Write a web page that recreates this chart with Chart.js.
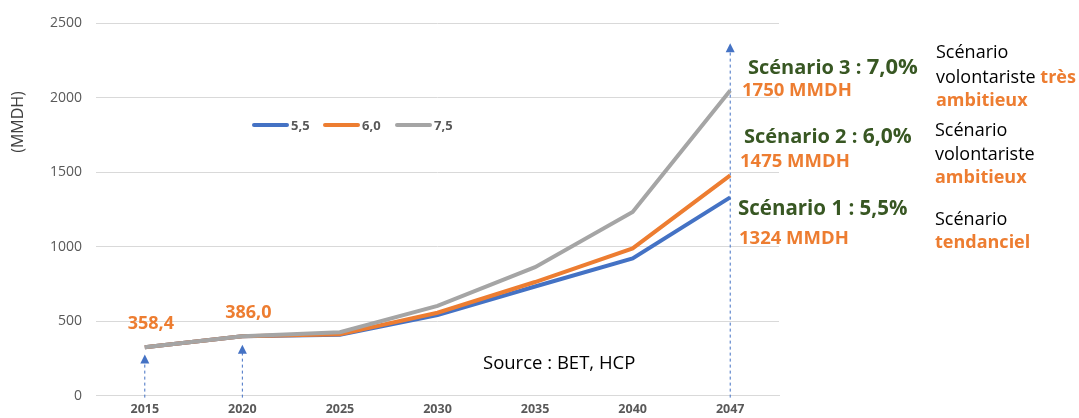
<!DOCTYPE html>
<html>
<head>
<meta charset="utf-8">
<script src="https://cdn.jsdelivr.net/npm/chart.js@4.4.0/dist/chart.umd.min.js"></script>
<style>
  body { margin: 0; background: #fff; }
  #wrap { width: 1079px; height: 418px; position: relative; }
</style>
</head>
<body>
<div id="wrap"><canvas id="projChart"></canvas></div>
<script>
// Données du graphique
const years = ['2015', '2020', '2025', '2030', '2035', '2040', '2047'];
const seriesNames = ['5,5', '6,0', '7,5'];
const scenario55 = [325, 398, 408, 540, 732, 920, 1330];
const scenario60 = [325, 398, 412, 556, 762, 988, 1478];
const scenario75 = [325, 398, 425, 602, 862, 1232, 2047];
const pointLabels = ['358,4', '386,0'];
const yTicks = [0, 500, 1000, 1500, 2000, 2500];

const colors = ['#4472C4', '#ED7D31', '#A5A5A5'];
const ORANGE = '#ED7D31';
const GREEN = '#385723';
const FONT = '"Open Sans", sans-serif';

// dessine une suite de morceaux de texte sur la même ligne
function drawRuns(ctx, x, y, runs) {
    ctx.textBaseline = 'alphabetic';
    ctx.textAlign = 'left';
    runs.forEach(r => {
        ctx.font = r.font;
        ctx.fillStyle = r.color;
        ctx.fillText(r.text, x, y);
        x += ctx.measureText(r.text).width;
    });
}

const annotations = {
    id: 'annotations',
    beforeDatasetsDraw(chart) {
        const { ctx, scales: { x, y } } = chart;
        // flèches pointillées bleues (sommet en valeur de l'axe)
        const arrows = [[0, 275], [1, 342], [6, 2364]];
        ctx.save();
        arrows.forEach(([i, v]) => {
            const px = x.getPixelForValue(i);
            const top = y.getPixelForValue(v);
            ctx.strokeStyle = '#4472C4';
            ctx.lineWidth = 1;
            ctx.setLineDash([3, 3]);
            ctx.beginPath();
            ctx.moveTo(px, y.getPixelForValue(0) + 2);
            ctx.lineTo(px, top + 8);
            ctx.stroke();
            ctx.setLineDash([]);
            ctx.fillStyle = '#4472C4';
            ctx.beginPath();
            ctx.moveTo(px, top);
            ctx.lineTo(px - 4.5, top + 9);
            ctx.lineTo(px + 4.5, top + 9);
            ctx.closePath();
            ctx.fill();
        });
        ctx.restore();
    },
    afterDraw(chart) {
        const { ctx, scales: { x, y } } = chart;
        ctx.save();

        // titre de l'axe Y
        ctx.translate(18, 122);
        ctx.rotate(-Math.PI / 2);
        ctx.font = '16px ' + FONT;
        ctx.fillStyle = '#404040';
        ctx.textAlign = 'center';
        ctx.textBaseline = 'middle';
        ctx.fillText('(MMDH)', 0, 0);
        ctx.setTransform(1, 0, 0, 1, 0, 0);

        // étiquettes de valeurs 2015 / 2020
        pointLabels.forEach((t, i) => {
            ctx.font = 'bold 18px ' + FONT;
            ctx.fillStyle = ORANGE;
            ctx.textAlign = 'center';
            ctx.textBaseline = 'middle';
            ctx.fillText(t, x.getPixelForValue(i) + 6, y.getPixelForValue(scenario75[i]) - 23);
        });

        // légende
        const legendX = [252, 323, 395];
        seriesNames.forEach((n, i) => {
            const lx = legendX[i];
            ctx.strokeStyle = colors[i];
            ctx.lineWidth = 4;
            ctx.lineCap = 'round';
            ctx.beginPath();
            ctx.moveTo(lx + 2, 125);
            ctx.lineTo(lx + 35, 125);
            ctx.stroke();
            ctx.font = 'bold 13px ' + FONT;
            ctx.fillStyle = '#595959';
            ctx.textAlign = 'left';
            ctx.textBaseline = 'middle';
            ctx.fillText(n, lx + 39, 126);
        });

        // scénarios
        const b = (s) => 'bold ' + s + 'px ' + FONT;
        const r = (s) => s + 'px ' + FONT;
        drawRuns(ctx, 748, 74, [{ text: 'Scénario 3 : ', font: b(20), color: GREEN }, { text: '7,0%', font: b(22), color: GREEN }]);
        drawRuns(ctx, 742, 96, [{ text: '1750 MMDH', font: b(18.5), color: ORANGE }]);
        drawRuns(ctx, 744, 143, [{ text: 'Scénario 2 : ', font: b(20), color: GREEN }, { text: '6,0%', font: b(21), color: GREEN }]);
        drawRuns(ctx, 740, 167, [{ text: '1475 MMDH', font: b(18.5), color: ORANGE }]);
        drawRuns(ctx, 738, 215, [{ text: 'Scénario 1 : 5,5%', font: b(20.5), color: GREEN }]);
        drawRuns(ctx, 739, 244, [{ text: '1324 MMDH', font: b(18.5), color: ORANGE }]);

        drawRuns(ctx, 936, 58, [{ text: 'Scénario', font: r(18), color: '#000' }]);
        drawRuns(ctx, 936, 83, [{ text: 'volontariste ', font: r(18), color: '#000' }, { text: 'très', font: b(18), color: ORANGE }]);
        drawRuns(ctx, 936, 106, [{ text: 'ambitieux', font: b(18), color: ORANGE }]);
        drawRuns(ctx, 935, 136, [{ text: 'Scénario', font: r(18), color: '#000' }]);
        drawRuns(ctx, 935, 160, [{ text: 'volontariste', font: r(18), color: '#000' }]);
        drawRuns(ctx, 935, 183, [{ text: 'ambitieux', font: b(18), color: ORANGE }]);
        drawRuns(ctx, 935, 225, [{ text: 'Scénario', font: r(18), color: '#000' }]);
        drawRuns(ctx, 935, 248, [{ text: 'tendanciel', font: b(18), color: ORANGE }]);

        drawRuns(ctx, 483, 369, [{ text: 'Source : BET, HCP', font: r(18.5), color: '#000' }]);
        ctx.restore();
    }
};

const ctx = document.getElementById('projChart').getContext('2d');
new Chart(ctx, {
    type: 'line',
    data: {
        labels: years,
        datasets: [scenario55, scenario60, scenario75].map((d, i) => ({
            label: seriesNames[i],
            data: d,
            borderColor: colors[i],
            backgroundColor: colors[i],
            borderWidth: 4,
            pointRadius: 0,
            tension: 0,
            order: 3 - i
        }))
    },
    options: {
        responsive: true,
        maintainAspectRatio: false,
        animation: false,
        layout: { padding: { top: 23, right: 300, left: 0, bottom: 0 } },
        plugins: { legend: { display: false }, tooltip: { enabled: false } },
        scales: {
            x: {
                offset: true,
                grid: { display: false, drawTicks: false },
                border: { color: '#d9d9d9' },
                ticks: { color: '#595959', font: { family: FONT, size: 12.5, weight: 'bold' }, padding: 6 },
                afterFit: s => { s.height = 22; }
            },
            y: {
                min: 0,
                max: 2500,
                afterBuildTicks: s => { s.ticks = yTicks.map(v => ({ value: v })); },
                grid: { color: '#d9d9d9', drawTicks: false },
                border: { display: false },
                ticks: { color: '#595959', font: { family: FONT, size: 14 }, padding: 14, callback: v => String(v) },
                afterFit: s => { s.width = 96; }
            }
        }
    },
    plugins: [annotations]
});
</script>
</body>
</html>
